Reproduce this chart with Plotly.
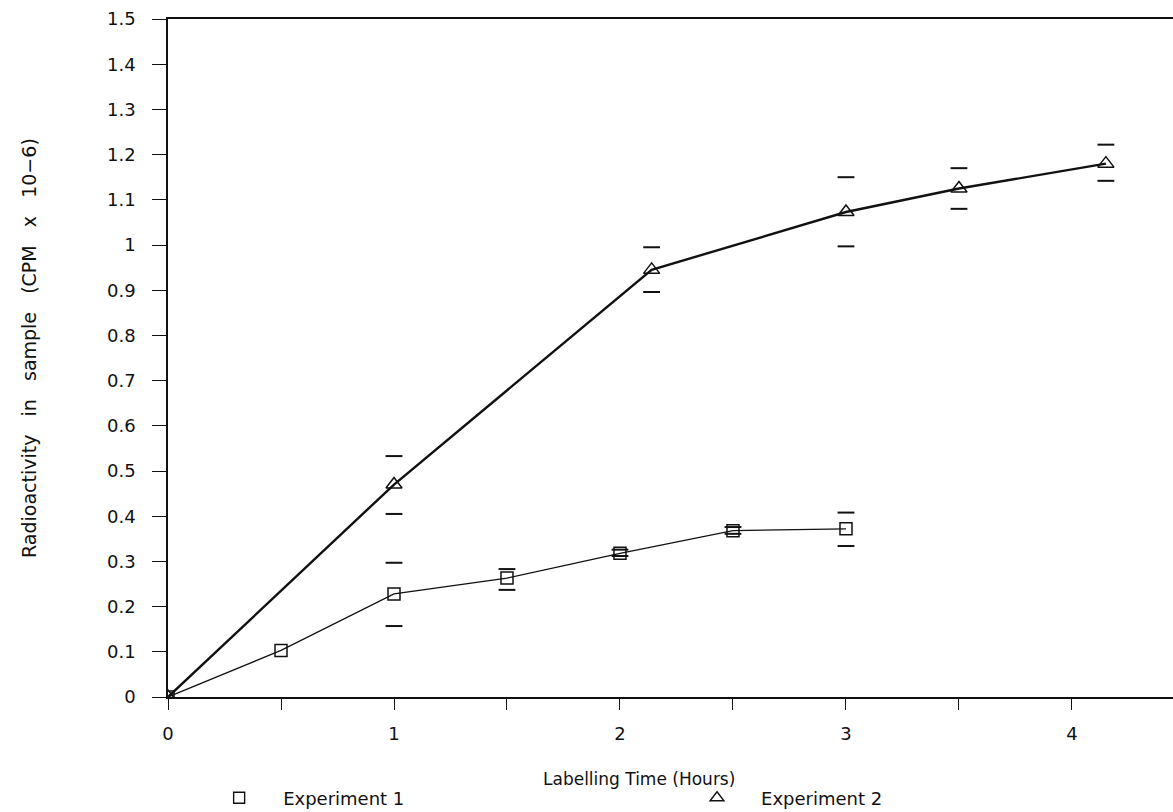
import plotly.graph_objects as go

# Experiment 1: labelling time (h) vs radioactivity (CPM x 10^-6)
exp1_time = [0, 0.5, 1, 1.5, 2, 2.5, 3]
exp1_cpm = [0, 0.103, 0.228, 0.263, 0.318, 0.368, 0.372]
# error bar caps for experiment 1 (time, upper, lower)
exp1_err_time = [1, 1.5, 2, 2.5, 3]
exp1_err_hi = [0.297, 0.283, 0.326, 0.376, 0.408]
exp1_err_lo = [0.157, 0.237, 0.312, 0.361, 0.334]

# Experiment 2
exp2_time = [0, 1, 2.14, 3, 3.5, 4.15]
exp2_cpm = [0, 0.470, 0.945, 1.073, 1.125, 1.180]
exp2_err_time = [1, 2.14, 3, 3.5, 4.15]
exp2_err_hi = [0.533, 0.995, 1.150, 1.170, 1.222]
exp2_err_lo = [0.405, 0.896, 0.997, 1.080, 1.142]

y_ticks = [round(i * 0.1, 1) for i in range(16)]
y_tick_text = ["0", "0.1", "0.2", "0.3", "0.4", "0.5", "0.6", "0.7", "0.8",
               "0.9", "1", "1.1", "1.2", "1.3", "1.4", "1.5"]
x_ticks = [0, 0.5, 1, 1.5, 2, 2.5, 3, 3.5, 4]
x_tick_text = ["0", "", "1", "", "2", "", "3", "", "4"]

FONT = "DejaVu Sans"
INK = "#111111"
NB = "\u00a0"

fig = go.Figure()

# series lines with open markers
fig.add_trace(go.Scatter(
    x=exp1_time, y=exp1_cpm, mode="lines+markers", showlegend=False,
    line=dict(color=INK, width=1.3),
    marker=dict(symbol="square-open", size=12, color=INK, line=dict(width=1.5)),
))
fig.add_trace(go.Scatter(
    x=exp2_time, y=exp2_cpm, mode="lines+markers", showlegend=False,
    line=dict(color=INK, width=2.4),
    marker=dict(symbol="triangle-up-open", size=14, color=INK, line=dict(width=1.5)),
))

# error bar caps (drawn as short horizontal dashes)
for xs, hi, lo in [(exp1_err_time, exp1_err_hi, exp1_err_lo),
                   (exp2_err_time, exp2_err_hi, exp2_err_lo)]:
    fig.add_trace(go.Scatter(
        x=xs + xs, y=hi + lo, mode="markers", showlegend=False,
        marker=dict(symbol="line-ew", size=12, color=INK,
                    line=dict(width=2, color=INK)),
    ))

# legend entries, one per legend box so they can sit far apart
fig.add_trace(go.Scatter(
    x=[None], y=[None], mode="markers", name="Experiment 1", legend="legend",
    marker=dict(symbol="square-open", size=11, color=INK, line=dict(width=1.4)),
))
fig.add_trace(go.Scatter(
    x=[None], y=[None], mode="markers", name="Experiment 2", legend="legend2",
    marker=dict(symbol="triangle-up-open", size=12, color=INK, line=dict(width=1.4)),
))

legend_style = dict(
    orientation="h", y=-0.149, xanchor="left", yanchor="middle",
    itemwidth=78, font=dict(family=FONT, size=18, color=INK),
    bgcolor="rgba(0,0,0,0)", borderwidth=0,
)

word_gap = NB * 3
y_title = word_gap.join(["Radioactivity", "in", "sample", "(CPM", "x", "10−6)"])

fig.update_layout(
    width=1173, height=812,
    margin=dict(l=168, r=0, t=19, b=115, autoexpand=False),
    paper_bgcolor="white", plot_bgcolor="white",
    font=dict(family=FONT, size=18, color=INK),
    legend=dict(x=0.027, **legend_style),
    legend2=dict(x=0.5025, **legend_style),
    xaxis=dict(
        range=[0, 4.447], tickvals=x_ticks, ticktext=x_tick_text,
        showgrid=False, zeroline=False, automargin=False,
        showline=True, linecolor=INK, linewidth=1.5, mirror=True,
        ticks="outside", ticklen=11, tickwidth=1.2, tickcolor=INK,
        ticklabelstandoff=9, tickfont=dict(size=18),
    ),
    yaxis=dict(
        range=[0, 1.5], tickvals=y_ticks, ticktext=y_tick_text,
        showgrid=False, zeroline=False, automargin=False,
        showline=True, linecolor=INK, linewidth=1.5, mirror=False,
        ticks="outside", ticklen=14, tickwidth=1.2, tickcolor=INK,
        ticklabelstandoff=13, tickfont=dict(size=18),
    ),
    annotations=[
        dict(text="Labelling Time (Hours)", xref="paper", yref="paper",
             x=(639 - 168) / 1005, y=-(779 - 697) / 678,
             xanchor="center", yanchor="middle", showarrow=False,
             font=dict(family=FONT, size=17, color=INK)),
        dict(text=y_title, xref="paper", yref="paper",
             x=(29 - 168) / 1005, y=(697 - 348) / 678, textangle=-90,
             xanchor="center", yanchor="middle", showarrow=False,
             font=dict(family=FONT, size=19, color=INK)),
    ],
)

fig.write_html("out.html")
